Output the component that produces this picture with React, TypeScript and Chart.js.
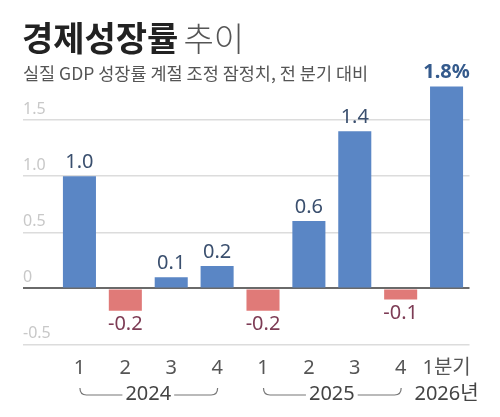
import { useEffect, useRef } from 'react';
import { Chart, registerables } from 'chart.js';

Chart.register(...registerables);

// ---- data ----
const quarterPositions = [1, 2, 3, 4, 5, 6, 7, 8, 9];
const quarterLabels = ['1', '2', '3', '4', '1', '2', '3', '4', '1분기'];
const growth = [1.0, -0.2, 0.1, 0.2, -0.2, 0.6, 1.4, -0.1, 1.8];
const valueLabels = ['1.0', '-0.2', '0.1', '0.2', '-0.2', '0.6', '1.4', '-0.1', '1.8%'];
const yTickValues = [-0.5, 0, 0.5, 1.0, 1.5];
const yTickLabels = ['-0.5', '0', '0.5', '1.0', '1.5'];
const yearGroupLabels = ['2024', '2025'];
const yearGroupStart = [0, 4];
const yearGroupEnd = [3, 7];
const lastYearLabel = '2026년';
const titleBold = '경제성장률';
const titleLight = '추이';
const subtitle = '실질 GDP 성장률 계절 조정 잠정치, 전 분기 대비';

const BLUE = '#5a86c5';
const RED = '#e07a78';
const KR = '"Noto Sans CJK KR", "Noto Sans", sans-serif';
const NUM = '"Noto Sans", "Noto Sans CJK KR", sans-serif';

const overlayPlugin = {
  id: 'overlay',
  afterDraw(chart: any) {
    const ctx = chart.ctx as CanvasRenderingContext2D;
    const xs = chart.scales.x;
    ctx.save();
    // title
    ctx.textBaseline = 'middle';
    ctx.textAlign = 'left';
    ctx.fillStyle = '#222';
    ctx.font = `bold 34px ${KR}`;
    ctx.fillText(titleBold, 22, 38);
    const w = ctx.measureText(titleBold).width;
    ctx.fillStyle = '#555';
    ctx.font = `300 33px ${KR}`;
    ctx.fillText(titleLight, 22 + w + 5, 38);
    ctx.fillStyle = '#555';
    ctx.font = `17.5px ${KR}`;
    ctx.fillText(subtitle, 23, 73);

    // value labels
    const meta = chart.getDatasetMeta(0);
    meta.data.forEach((el: any, i: number) => {
      const v = growth[i];
      const last = i === growth.length - 1;
      ctx.textAlign = 'center';
      ctx.textBaseline = 'alphabetic';
      if (v >= 0) {
        ctx.font = last ? `bold 20px ${NUM}` : `20px ${NUM}`;
        ctx.fillStyle = last ? '#345a8c' : '#3a4f6e';
        ctx.fillText(valueLabels[i], el.x, el.y - 8);
      } else {
        ctx.font = `20px ${NUM}`;
        ctx.fillStyle = '#7d3c55';
        ctx.fillText(valueLabels[i], el.x, el.y + 19);
      }
    });

    // year brackets
    const yearBase = 400;
    const lineY = 395;
    ctx.font = `20px ${NUM}`;
    ctx.fillStyle = '#444';
    ctx.strokeStyle = '#777';
    ctx.lineWidth = 1.2;
    yearGroupLabels.forEach((label, g) => {
      const x0 = xs.getPixelForValue(quarterPositions[yearGroupStart[g]]);
      const x1 = xs.getPixelForValue(quarterPositions[yearGroupEnd[g]]);
      const cx = (x0 + x1) / 2;
      ctx.textAlign = 'center';
      ctx.fillText(label, cx, yearBase);
      const tw = ctx.measureText(label).width;
      ctx.beginPath();
      ctx.moveTo(x0 + 0.5, lineY - 7);
      ctx.quadraticCurveTo(x0 + 0.5, lineY, x0 + 7, lineY);
      ctx.lineTo(cx - tw / 2 - 3, lineY);
      ctx.moveTo(cx + tw / 2 + 3, lineY);
      ctx.lineTo(x1 - 6, lineY);
      ctx.quadraticCurveTo(x1 + 0.5, lineY, x1 + 0.5, lineY - 7);
      ctx.stroke();
    });
    const xl = xs.getPixelForValue(quarterPositions[quarterPositions.length - 1]);
    ctx.textAlign = 'center';
    ctx.fillText(lastYearLabel, xl, yearBase);
    ctx.restore();
  },
};

export default function App() {
  const ref = useRef<HTMLCanvasElement | null>(null);
  useEffect(() => {
    document.body.style.margin = '0';
    const canvas = ref.current!;
    const chart = new Chart(canvas, {
      type: 'bar',
      data: {
        datasets: [
          {
            data: quarterPositions.map((x, i) => ({ x, y: growth[i] })),
            backgroundColor: growth.map((v) => (v >= 0 ? BLUE : RED)),
            borderWidth: 0,
            categoryPercentage: 1,
            barPercentage: 0.72,
          } as any,
        ],
      },
      options: {
        animation: false,
        responsive: false,
        devicePixelRatio: 1,
        layout: { padding: { left: 23, right: 30.5, top: 64, bottom: 25.5 } },
        plugins: { legend: { display: false }, tooltip: { enabled: false }, title: { display: false } },
        scales: {
          x: {
            type: 'linear',
            offset: false,
            min: -0.23,
            max: 9.5,
            afterBuildTicks: (axis: any) => {
              axis.ticks = quarterPositions.map((v) => ({ value: v }));
            },
            ticks: {
              autoSkip: false,
              maxRotation: 0,
              padding: 11.5,
              color: '#555',
              font: { family: NUM, size: 20 },
              callback: (value: any) => quarterLabels[quarterPositions.indexOf(Number(value))] ?? '',
            },
            grid: { display: false, drawTicks: false },
            border: { display: false },
          },
          y: {
            min: -0.5,
            max: 2.0,
            afterBuildTicks: (axis: any) => {
              axis.ticks = yTickValues.map((v) => ({ value: v }));
            },
            ticks: {
              mirror: true,
              padding: 0,
              labelOffset: -11,
              color: '#c8c8c8',
              font: { family: NUM, size: 16 },
              callback: (value: any) => yTickLabels[yTickValues.indexOf(Number(value))] ?? '',
            },
            grid: {
              drawTicks: false,
              color: (c: any) => (c.tick && c.tick.value === 0 ? '#6a6a6a' : '#dcdcdc'),
              lineWidth: (c: any) => (c.tick && c.tick.value === 0 ? 2 : 1.5),
            },
            border: { display: false },
          },
        },
      },
      plugins: [overlayPlugin],
    });
    return () => chart.destroy();
  }, []);
  return <canvas ref={ref} width={500} height={417} style={{ display: 'block', width: 500, height: 417 }} />;
}
